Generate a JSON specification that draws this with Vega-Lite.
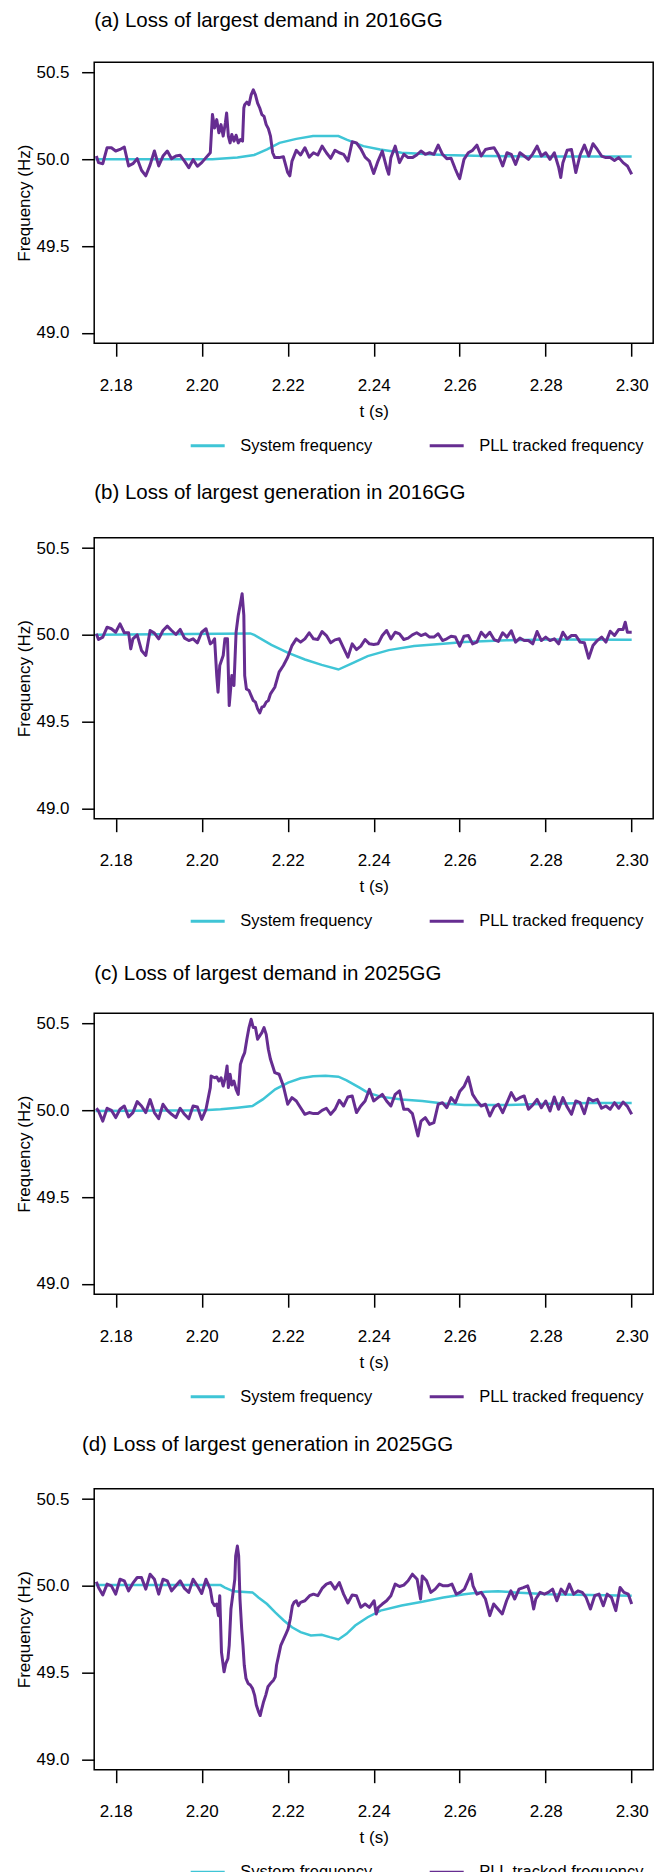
{
  "$schema": "https://vega.github.io/schema/vega-lite/v6.json",
  "padding": {"left": 14.2, "top": 10.2, "right": 2, "bottom": 0},
  "background": "white",
  "bounds": "flush",
  "spacing": 194.5,
  "resolve": {"legend": {"color": "independent"}, "scale": {"color": "independent"}},
  "datasets": {
    "a": [
      {"s":"S","t":2.1753,"f":50.0},{"s":"S","t":2.2025,"f":50.0},{"s":"S","t":2.2083,"f":50.01},{"s":"S","t":2.2122,"f":50.025},{"s":"S","t":2.2152,"f":50.057},{"s":"S","t":2.2181,"f":50.095},{"s":"S","t":2.222,"f":50.118},{"s":"S","t":2.2259,"f":50.134},{"s":"S","t":2.2318,"f":50.134},{"s":"S","t":2.2337,"f":50.114},{"s":"S","t":2.2376,"f":50.076},{"s":"S","t":2.2415,"f":50.057},{"s":"S","t":2.2465,"f":50.038},{"s":"S","t":2.2562,"f":50.025},{"s":"S","t":2.266,"f":50.019},{"s":"S","t":2.2807,"f":50.017},{"s":"S","t":2.3,"f":50.017},
      {"s":"P","t":2.1755,"f":50.019},{"s":"P","t":2.176,"f":49.981},{"s":"P","t":2.177,"f":49.975},{"s":"P","t":2.178,"f":50.067},{"s":"P","t":2.179,"f":50.067},{"s":"P","t":2.18,"f":50.048},{"s":"P","t":2.181,"f":50.057},{"s":"P","t":2.182,"f":50.071},{"s":"P","t":2.183,"f":49.962},{"s":"P","t":2.184,"f":49.975},{"s":"P","t":2.185,"f":50.004},{"s":"P","t":2.186,"f":49.937},{"s":"P","t":2.187,"f":49.905},{"s":"P","t":2.188,"f":49.968},{"s":"P","t":2.189,"f":50.048},{"s":"P","t":2.19,"f":49.962},{"s":"P","t":2.191,"f":50.019},{"s":"P","t":2.192,"f":50.048},{"s":"P","t":2.193,"f":50.004},{"s":"P","t":2.194,"f":50.019},{"s":"P","t":2.195,"f":50.023},{"s":"P","t":2.196,"f":49.99},{"s":"P","t":2.197,"f":49.952},{"s":"P","t":2.198,"f":49.998},{"s":"P","t":2.199,"f":49.96},{"s":"P","t":2.2,"f":49.981},{"s":"P","t":2.201,"f":50.01},{"s":"P","t":2.202,"f":50.038},{"s":"P","t":2.2025,"f":50.258},{"s":"P","t":2.203,"f":50.181},{"s":"P","t":2.2035,"f":50.229},{"s":"P","t":2.204,"f":50.153},{"s":"P","t":2.2045,"f":50.2},{"s":"P","t":2.205,"f":50.134},{"s":"P","t":2.2055,"f":50.21},{"s":"P","t":2.2058,"f":50.267},{"s":"P","t":2.2062,"f":50.134},{"s":"P","t":2.2066,"f":50.095},{"s":"P","t":2.207,"f":50.143},{"s":"P","t":2.2075,"f":50.105},{"s":"P","t":2.208,"f":50.139},{"s":"P","t":2.2085,"f":50.095},{"s":"P","t":2.209,"f":50.114},{"s":"P","t":2.2095,"f":50.105},{"s":"P","t":2.2098,"f":50.296},{"s":"P","t":2.21,"f":50.315},{"s":"P","t":2.2105,"f":50.33},{"s":"P","t":2.211,"f":50.315},{"s":"P","t":2.2115,"f":50.372},{"s":"P","t":2.212,"f":50.401},{"s":"P","t":2.2125,"f":50.372},{"s":"P","t":2.213,"f":50.324},{"s":"P","t":2.2135,"f":50.296},{"s":"P","t":2.214,"f":50.258},{"s":"P","t":2.2145,"f":50.248},{"s":"P","t":2.215,"f":50.2},{"s":"P","t":2.2155,"f":50.177},{"s":"P","t":2.216,"f":50.134},{"s":"P","t":2.2165,"f":50.038},{"s":"P","t":2.217,"f":50.01},{"s":"P","t":2.218,"f":50.01},{"s":"P","t":2.219,"f":50.015},{"s":"P","t":2.22,"f":49.924},{"s":"P","t":2.2205,"f":49.905},{"s":"P","t":2.221,"f":49.99},{"s":"P","t":2.222,"f":50.052},{"s":"P","t":2.223,"f":50.025},{"s":"P","t":2.224,"f":50.067},{"s":"P","t":2.225,"f":50.013},{"s":"P","t":2.226,"f":50.038},{"s":"P","t":2.227,"f":50.025},{"s":"P","t":2.228,"f":50.076},{"s":"P","t":2.229,"f":50.038},{"s":"P","t":2.23,"f":50.006},{"s":"P","t":2.231,"f":50.052},{"s":"P","t":2.232,"f":50.038},{"s":"P","t":2.233,"f":50.029},{"s":"P","t":2.234,"f":49.99},{"s":"P","t":2.235,"f":50.101},{"s":"P","t":2.236,"f":50.095},{"s":"P","t":2.237,"f":50.061},{"s":"P","t":2.238,"f":50.013},{"s":"P","t":2.239,"f":49.99},{"s":"P","t":2.24,"f":49.918},{"s":"P","t":2.241,"f":49.99},{"s":"P","t":2.242,"f":50.048},{"s":"P","t":2.243,"f":49.952},{"s":"P","t":2.2435,"f":49.914},{"s":"P","t":2.244,"f":50.01},{"s":"P","t":2.245,"f":50.076},{"s":"P","t":2.246,"f":49.981},{"s":"P","t":2.247,"f":50.029},{"s":"P","t":2.248,"f":50.01},{"s":"P","t":2.249,"f":50.01},{"s":"P","t":2.25,"f":50.025},{"s":"P","t":2.251,"f":50.048},{"s":"P","t":2.252,"f":50.029},{"s":"P","t":2.253,"f":50.038},{"s":"P","t":2.254,"f":50.029},{"s":"P","t":2.255,"f":50.082},{"s":"P","t":2.256,"f":50.029},{"s":"P","t":2.257,"f":50.004},{"s":"P","t":2.258,"f":50.006},{"s":"P","t":2.259,"f":49.943},{"s":"P","t":2.2595,"f":49.914},{"s":"P","t":2.26,"f":49.889},{"s":"P","t":2.261,"f":50.0},{"s":"P","t":2.262,"f":50.038},{"s":"P","t":2.263,"f":50.052},{"s":"P","t":2.264,"f":50.082},{"s":"P","t":2.265,"f":50.019},{"s":"P","t":2.266,"f":50.057},{"s":"P","t":2.267,"f":50.063},{"s":"P","t":2.268,"f":50.067},{"s":"P","t":2.269,"f":50.025},{"s":"P","t":2.27,"f":49.962},{"s":"P","t":2.271,"f":50.038},{"s":"P","t":2.272,"f":50.029},{"s":"P","t":2.273,"f":49.971},{"s":"P","t":2.274,"f":50.038},{"s":"P","t":2.275,"f":50.019},{"s":"P","t":2.276,"f":50.0},{"s":"P","t":2.277,"f":50.032},{"s":"P","t":2.278,"f":50.076},{"s":"P","t":2.279,"f":50.019},{"s":"P","t":2.28,"f":50.038},{"s":"P","t":2.281,"f":50.0},{"s":"P","t":2.282,"f":50.038},{"s":"P","t":2.283,"f":49.956},{"s":"P","t":2.2835,"f":49.895},{"s":"P","t":2.284,"f":49.981},{"s":"P","t":2.285,"f":50.052},{"s":"P","t":2.286,"f":50.057},{"s":"P","t":2.287,"f":49.924},{"s":"P","t":2.288,"f":50.025},{"s":"P","t":2.289,"f":50.082},{"s":"P","t":2.29,"f":50.019},{"s":"P","t":2.291,"f":50.09},{"s":"P","t":2.292,"f":50.057},{"s":"P","t":2.293,"f":50.019},{"s":"P","t":2.294,"f":50.01},{"s":"P","t":2.295,"f":50.01},{"s":"P","t":2.296,"f":49.994},{"s":"P","t":2.297,"f":50.01},{"s":"P","t":2.298,"f":49.981},{"s":"P","t":2.299,"f":49.962},{"s":"P","t":2.3,"f":49.914}
    ],
    "b": [
      {"s":"S","t":2.1753,"f":50.0},{"s":"S","t":2.2113,"f":50.008},{"s":"S","t":2.2122,"f":50.0},{"s":"S","t":2.2162,"f":49.942},{"s":"S","t":2.2201,"f":49.896},{"s":"S","t":2.224,"f":49.858},{"s":"S","t":2.2279,"f":49.827},{"s":"S","t":2.2318,"f":49.8},{"s":"S","t":2.2347,"f":49.833},{"s":"S","t":2.2386,"f":49.877},{"s":"S","t":2.2435,"f":49.912},{"s":"S","t":2.2494,"f":49.935},{"s":"S","t":2.2562,"f":49.948},{"s":"S","t":2.2611,"f":49.958},{"s":"S","t":2.2709,"f":49.969},{"s":"S","t":2.2807,"f":49.973},{"s":"S","t":2.3,"f":49.971},
      {"s":"P","t":2.1755,"f":50.006},{"s":"P","t":2.176,"f":49.973},{"s":"P","t":2.177,"f":49.987},{"s":"P","t":2.178,"f":50.044},{"s":"P","t":2.179,"f":50.035},{"s":"P","t":2.18,"f":50.015},{"s":"P","t":2.181,"f":50.063},{"s":"P","t":2.182,"f":50.012},{"s":"P","t":2.183,"f":50.012},{"s":"P","t":2.1835,"f":49.919},{"s":"P","t":2.184,"f":49.977},{"s":"P","t":2.185,"f":50.0},{"s":"P","t":2.186,"f":49.91},{"s":"P","t":2.187,"f":49.881},{"s":"P","t":2.188,"f":50.025},{"s":"P","t":2.189,"f":50.01},{"s":"P","t":2.19,"f":49.977},{"s":"P","t":2.191,"f":50.025},{"s":"P","t":2.192,"f":50.05},{"s":"P","t":2.193,"f":50.025},{"s":"P","t":2.194,"f":50.002},{"s":"P","t":2.195,"f":50.031},{"s":"P","t":2.196,"f":49.981},{"s":"P","t":2.197,"f":49.967},{"s":"P","t":2.198,"f":49.977},{"s":"P","t":2.199,"f":49.954},{"s":"P","t":2.2,"f":50.015},{"s":"P","t":2.201,"f":50.035},{"s":"P","t":2.202,"f":49.948},{"s":"P","t":2.2025,"f":49.958},{"s":"P","t":2.203,"f":49.977},{"s":"P","t":2.2035,"f":49.765},{"s":"P","t":2.2038,"f":49.669},{"s":"P","t":2.2042,"f":49.823},{"s":"P","t":2.205,"f":49.881},{"s":"P","t":2.2054,"f":49.977},{"s":"P","t":2.206,"f":49.977},{"s":"P","t":2.2064,"f":49.592},{"s":"P","t":2.207,"f":49.765},{"s":"P","t":2.2075,"f":49.708},{"s":"P","t":2.208,"f":50.015},{"s":"P","t":2.2085,"f":50.112},{"s":"P","t":2.209,"f":50.179},{"s":"P","t":2.2094,"f":50.237},{"s":"P","t":2.2098,"f":50.112},{"s":"P","t":2.21,"f":49.765},{"s":"P","t":2.2104,"f":49.688},{"s":"P","t":2.211,"f":49.679},{"s":"P","t":2.2115,"f":49.65},{"s":"P","t":2.212,"f":49.621},{"s":"P","t":2.2125,"f":49.612},{"s":"P","t":2.213,"f":49.573},{"s":"P","t":2.2135,"f":49.55},{"s":"P","t":2.214,"f":49.583},{"s":"P","t":2.2145,"f":49.588},{"s":"P","t":2.215,"f":49.612},{"s":"P","t":2.2155,"f":49.621},{"s":"P","t":2.216,"f":49.66},{"s":"P","t":2.217,"f":49.698},{"s":"P","t":2.218,"f":49.785},{"s":"P","t":2.219,"f":49.823},{"s":"P","t":2.22,"f":49.871},{"s":"P","t":2.221,"f":49.938},{"s":"P","t":2.222,"f":49.977},{"s":"P","t":2.223,"f":49.958},{"s":"P","t":2.224,"f":49.977},{"s":"P","t":2.225,"f":50.012},{"s":"P","t":2.226,"f":49.977},{"s":"P","t":2.227,"f":49.973},{"s":"P","t":2.228,"f":50.019},{"s":"P","t":2.229,"f":49.996},{"s":"P","t":2.23,"f":49.954},{"s":"P","t":2.231,"f":49.971},{"s":"P","t":2.232,"f":49.977},{"s":"P","t":2.233,"f":49.923},{"s":"P","t":2.234,"f":49.871},{"s":"P","t":2.235,"f":49.948},{"s":"P","t":2.236,"f":49.915},{"s":"P","t":2.237,"f":49.935},{"s":"P","t":2.238,"f":49.973},{"s":"P","t":2.239,"f":49.948},{"s":"P","t":2.24,"f":49.944},{"s":"P","t":2.241,"f":49.948},{"s":"P","t":2.242,"f":49.996},{"s":"P","t":2.243,"f":50.025},{"s":"P","t":2.244,"f":49.977},{"s":"P","t":2.245,"f":50.015},{"s":"P","t":2.246,"f":50.006},{"s":"P","t":2.247,"f":49.973},{"s":"P","t":2.248,"f":49.981},{"s":"P","t":2.249,"f":50.0},{"s":"P","t":2.25,"f":50.012},{"s":"P","t":2.251,"f":49.996},{"s":"P","t":2.252,"f":50.006},{"s":"P","t":2.253,"f":49.987},{"s":"P","t":2.254,"f":49.987},{"s":"P","t":2.255,"f":50.006},{"s":"P","t":2.256,"f":49.967},{"s":"P","t":2.257,"f":49.977},{"s":"P","t":2.258,"f":49.992},{"s":"P","t":2.259,"f":49.987},{"s":"P","t":2.26,"f":49.935},{"s":"P","t":2.261,"f":49.992},{"s":"P","t":2.262,"f":49.996},{"s":"P","t":2.263,"f":49.948},{"s":"P","t":2.264,"f":49.958},{"s":"P","t":2.265,"f":50.015},{"s":"P","t":2.266,"f":49.987},{"s":"P","t":2.267,"f":50.015},{"s":"P","t":2.268,"f":49.973},{"s":"P","t":2.269,"f":49.962},{"s":"P","t":2.27,"f":50.012},{"s":"P","t":2.271,"f":49.987},{"s":"P","t":2.272,"f":50.023},{"s":"P","t":2.273,"f":49.958},{"s":"P","t":2.274,"f":49.981},{"s":"P","t":2.275,"f":49.967},{"s":"P","t":2.276,"f":49.967},{"s":"P","t":2.277,"f":49.948},{"s":"P","t":2.278,"f":50.019},{"s":"P","t":2.279,"f":49.967},{"s":"P","t":2.28,"f":49.987},{"s":"P","t":2.281,"f":49.967},{"s":"P","t":2.282,"f":49.977},{"s":"P","t":2.283,"f":49.948},{"s":"P","t":2.284,"f":50.015},{"s":"P","t":2.285,"f":49.977},{"s":"P","t":2.286,"f":49.996},{"s":"P","t":2.287,"f":49.996},{"s":"P","t":2.288,"f":49.958},{"s":"P","t":2.289,"f":49.954},{"s":"P","t":2.29,"f":49.865},{"s":"P","t":2.291,"f":49.938},{"s":"P","t":2.292,"f":49.967},{"s":"P","t":2.293,"f":49.987},{"s":"P","t":2.294,"f":49.958},{"s":"P","t":2.295,"f":50.021},{"s":"P","t":2.296,"f":49.996},{"s":"P","t":2.297,"f":50.031},{"s":"P","t":2.298,"f":50.031},{"s":"P","t":2.2985,"f":50.073},{"s":"P","t":2.299,"f":50.015},{"s":"P","t":2.3,"f":50.015}
    ],
    "c": [
      {"s":"S","t":2.1753,"f":49.996},{"s":"S","t":2.2005,"f":50.0},{"s":"S","t":2.2044,"f":50.006},{"s":"S","t":2.2083,"f":50.015},{"s":"S","t":2.2118,"f":50.025},{"s":"S","t":2.2142,"f":50.063},{"s":"S","t":2.2171,"f":50.121},{"s":"S","t":2.2201,"f":50.16},{"s":"S","t":2.223,"f":50.185},{"s":"S","t":2.2259,"f":50.196},{"s":"S","t":2.2288,"f":50.2},{"s":"S","t":2.2318,"f":50.194},{"s":"S","t":2.2337,"f":50.173},{"s":"S","t":2.2367,"f":50.131},{"s":"S","t":2.2386,"f":50.102},{"s":"S","t":2.2416,"f":50.079},{"s":"S","t":2.2465,"f":50.062},{"s":"S","t":2.2513,"f":50.054},{"s":"S","t":2.2562,"f":50.04},{"s":"S","t":2.2611,"f":50.031},{"s":"S","t":2.2709,"f":50.031},{"s":"S","t":2.2807,"f":50.038},{"s":"S","t":2.2904,"f":50.042},{"s":"S","t":2.3,"f":50.042},
      {"s":"P","t":2.1755,"f":50.012},{"s":"P","t":2.176,"f":49.996},{"s":"P","t":2.177,"f":49.938},{"s":"P","t":2.178,"f":50.012},{"s":"P","t":2.179,"f":50.0},{"s":"P","t":2.18,"f":49.958},{"s":"P","t":2.181,"f":50.006},{"s":"P","t":2.182,"f":50.025},{"s":"P","t":2.183,"f":49.962},{"s":"P","t":2.184,"f":49.987},{"s":"P","t":2.185,"f":50.05},{"s":"P","t":2.186,"f":50.025},{"s":"P","t":2.187,"f":49.987},{"s":"P","t":2.188,"f":50.062},{"s":"P","t":2.189,"f":49.987},{"s":"P","t":2.19,"f":49.952},{"s":"P","t":2.191,"f":50.035},{"s":"P","t":2.192,"f":50.0},{"s":"P","t":2.193,"f":49.977},{"s":"P","t":2.194,"f":49.958},{"s":"P","t":2.195,"f":50.012},{"s":"P","t":2.196,"f":49.977},{"s":"P","t":2.197,"f":49.952},{"s":"P","t":2.198,"f":50.025},{"s":"P","t":2.199,"f":50.019},{"s":"P","t":2.2,"f":49.948},{"s":"P","t":2.201,"f":50.006},{"s":"P","t":2.202,"f":50.131},{"s":"P","t":2.2022,"f":50.198},{"s":"P","t":2.203,"f":50.188},{"s":"P","t":2.2035,"f":50.192},{"s":"P","t":2.204,"f":50.169},{"s":"P","t":2.2045,"f":50.188},{"s":"P","t":2.205,"f":50.14},{"s":"P","t":2.2055,"f":50.188},{"s":"P","t":2.2059,"f":50.256},{"s":"P","t":2.2062,"f":50.131},{"s":"P","t":2.2066,"f":50.208},{"s":"P","t":2.207,"f":50.146},{"s":"P","t":2.2075,"f":50.169},{"s":"P","t":2.208,"f":50.121},{"s":"P","t":2.2085,"f":50.092},{"s":"P","t":2.209,"f":50.265},{"s":"P","t":2.2095,"f":50.304},{"s":"P","t":2.21,"f":50.333},{"s":"P","t":2.2105,"f":50.41},{"s":"P","t":2.211,"f":50.477},{"s":"P","t":2.2115,"f":50.525},{"s":"P","t":2.212,"f":50.477},{"s":"P","t":2.2125,"f":50.477},{"s":"P","t":2.213,"f":50.41},{"s":"P","t":2.2135,"f":50.429},{"s":"P","t":2.214,"f":50.448},{"s":"P","t":2.2145,"f":50.477},{"s":"P","t":2.215,"f":50.438},{"s":"P","t":2.2155,"f":50.352},{"s":"P","t":2.216,"f":50.294},{"s":"P","t":2.217,"f":50.217},{"s":"P","t":2.218,"f":50.208},{"s":"P","t":2.219,"f":50.14},{"s":"P","t":2.22,"f":50.035},{"s":"P","t":2.221,"f":50.073},{"s":"P","t":2.222,"f":50.054},{"s":"P","t":2.223,"f":50.015},{"s":"P","t":2.224,"f":49.977},{"s":"P","t":2.225,"f":49.987},{"s":"P","t":2.226,"f":49.981},{"s":"P","t":2.227,"f":49.981},{"s":"P","t":2.228,"f":50.0},{"s":"P","t":2.229,"f":50.012},{"s":"P","t":2.23,"f":49.977},{"s":"P","t":2.231,"f":50.006},{"s":"P","t":2.232,"f":50.058},{"s":"P","t":2.233,"f":50.025},{"s":"P","t":2.234,"f":50.077},{"s":"P","t":2.235,"f":50.083},{"s":"P","t":2.236,"f":49.987},{"s":"P","t":2.237,"f":50.025},{"s":"P","t":2.238,"f":50.054},{"s":"P","t":2.239,"f":50.121},{"s":"P","t":2.24,"f":50.054},{"s":"P","t":2.241,"f":50.073},{"s":"P","t":2.242,"f":50.092},{"s":"P","t":2.243,"f":50.054},{"s":"P","t":2.244,"f":50.025},{"s":"P","t":2.245,"f":50.092},{"s":"P","t":2.246,"f":50.112},{"s":"P","t":2.247,"f":50.006},{"s":"P","t":2.248,"f":50.006},{"s":"P","t":2.249,"f":49.981},{"s":"P","t":2.25,"f":49.881},{"s":"P","t":2.2503,"f":49.852},{"s":"P","t":2.251,"f":49.938},{"s":"P","t":2.252,"f":49.958},{"s":"P","t":2.253,"f":49.919},{"s":"P","t":2.254,"f":49.929},{"s":"P","t":2.255,"f":50.035},{"s":"P","t":2.256,"f":50.044},{"s":"P","t":2.257,"f":50.015},{"s":"P","t":2.258,"f":50.073},{"s":"P","t":2.259,"f":50.044},{"s":"P","t":2.26,"f":50.108},{"s":"P","t":2.261,"f":50.137},{"s":"P","t":2.262,"f":50.192},{"s":"P","t":2.263,"f":50.092},{"s":"P","t":2.264,"f":50.054},{"s":"P","t":2.265,"f":50.025},{"s":"P","t":2.266,"f":50.035},{"s":"P","t":2.267,"f":49.967},{"s":"P","t":2.268,"f":50.019},{"s":"P","t":2.269,"f":50.035},{"s":"P","t":2.27,"f":49.987},{"s":"P","t":2.271,"f":50.044},{"s":"P","t":2.272,"f":50.102},{"s":"P","t":2.273,"f":50.058},{"s":"P","t":2.274,"f":50.073},{"s":"P","t":2.275,"f":50.083},{"s":"P","t":2.276,"f":50.006},{"s":"P","t":2.277,"f":50.031},{"s":"P","t":2.278,"f":50.063},{"s":"P","t":2.279,"f":50.015},{"s":"P","t":2.28,"f":50.054},{"s":"P","t":2.281,"f":49.996},{"s":"P","t":2.282,"f":50.077},{"s":"P","t":2.283,"f":50.006},{"s":"P","t":2.284,"f":50.073},{"s":"P","t":2.285,"f":50.019},{"s":"P","t":2.286,"f":49.977},{"s":"P","t":2.287,"f":50.054},{"s":"P","t":2.288,"f":50.044},{"s":"P","t":2.289,"f":49.981},{"s":"P","t":2.29,"f":50.069},{"s":"P","t":2.291,"f":50.054},{"s":"P","t":2.292,"f":50.063},{"s":"P","t":2.293,"f":50.012},{"s":"P","t":2.294,"f":50.025},{"s":"P","t":2.295,"f":50.006},{"s":"P","t":2.296,"f":50.044},{"s":"P","t":2.297,"f":50.012},{"s":"P","t":2.298,"f":50.048},{"s":"P","t":2.299,"f":50.023},{"s":"P","t":2.3,"f":49.977}
    ],
    "d": [
      {"s":"S","t":2.1753,"f":50.004},{"s":"S","t":2.2044,"f":50.004},{"s":"S","t":2.2054,"f":49.99},{"s":"S","t":2.2074,"f":49.968},{"s":"S","t":2.2118,"f":49.962},{"s":"S","t":2.2132,"f":49.933},{"s":"S","t":2.2152,"f":49.895},{"s":"S","t":2.2171,"f":49.847},{"s":"S","t":2.2191,"f":49.8},{"s":"S","t":2.221,"f":49.761},{"s":"S","t":2.223,"f":49.733},{"s":"S","t":2.2254,"f":49.714},{"s":"S","t":2.2279,"f":49.718},{"s":"S","t":2.2298,"f":49.704},{"s":"S","t":2.2318,"f":49.691},{"s":"S","t":2.2337,"f":49.723},{"s":"S","t":2.2357,"f":49.771},{"s":"S","t":2.2386,"f":49.819},{"s":"S","t":2.2416,"f":49.857},{"s":"S","t":2.2465,"f":49.886},{"s":"S","t":2.2513,"f":49.908},{"s":"S","t":2.2562,"f":49.933},{"s":"S","t":2.2611,"f":49.952},{"s":"S","t":2.266,"f":49.966},{"s":"S","t":2.2689,"f":49.969},{"s":"S","t":2.2728,"f":49.962},{"s":"S","t":2.2807,"f":49.952},{"s":"S","t":2.2904,"f":49.947},{"s":"S","t":2.3,"f":49.943},
      {"s":"P","t":2.1755,"f":50.023},{"s":"P","t":2.176,"f":49.99},{"s":"P","t":2.177,"f":49.947},{"s":"P","t":2.178,"f":50.01},{"s":"P","t":2.179,"f":50.0},{"s":"P","t":2.18,"f":49.952},{"s":"P","t":2.181,"f":50.038},{"s":"P","t":2.182,"f":50.029},{"s":"P","t":2.183,"f":49.971},{"s":"P","t":2.184,"f":50.015},{"s":"P","t":2.185,"f":50.048},{"s":"P","t":2.186,"f":50.048},{"s":"P","t":2.187,"f":49.981},{"s":"P","t":2.188,"f":50.067},{"s":"P","t":2.189,"f":50.038},{"s":"P","t":2.19,"f":49.952},{"s":"P","t":2.191,"f":50.038},{"s":"P","t":2.192,"f":50.029},{"s":"P","t":2.193,"f":49.971},{"s":"P","t":2.194,"f":50.0},{"s":"P","t":2.195,"f":50.029},{"s":"P","t":2.196,"f":49.985},{"s":"P","t":2.197,"f":49.962},{"s":"P","t":2.198,"f":50.038},{"s":"P","t":2.199,"f":50.0},{"s":"P","t":2.2,"f":49.956},{"s":"P","t":2.201,"f":50.038},{"s":"P","t":2.202,"f":49.981},{"s":"P","t":2.2025,"f":49.905},{"s":"P","t":2.203,"f":49.886},{"s":"P","t":2.2035,"f":49.895},{"s":"P","t":2.2039,"f":49.828},{"s":"P","t":2.2042,"f":49.943},{"s":"P","t":2.2046,"f":49.618},{"s":"P","t":2.2049,"f":49.561},{"s":"P","t":2.2052,"f":49.504},{"s":"P","t":2.2056,"f":49.552},{"s":"P","t":2.2061,"f":49.58},{"s":"P","t":2.2064,"f":49.657},{"s":"P","t":2.2068,"f":49.866},{"s":"P","t":2.2072,"f":49.943},{"s":"P","t":2.2077,"f":50.038},{"s":"P","t":2.2079,"f":50.172},{"s":"P","t":2.2083,"f":50.229},{"s":"P","t":2.2086,"f":50.172},{"s":"P","t":2.2089,"f":49.924},{"s":"P","t":2.2093,"f":49.752},{"s":"P","t":2.2096,"f":49.657},{"s":"P","t":2.2099,"f":49.542},{"s":"P","t":2.2103,"f":49.466},{"s":"P","t":2.2108,"f":49.437},{"s":"P","t":2.2113,"f":49.428},{"s":"P","t":2.2118,"f":49.409},{"s":"P","t":2.2123,"f":49.37},{"s":"P","t":2.2127,"f":49.313},{"s":"P","t":2.2132,"f":49.275},{"s":"P","t":2.2136,"f":49.252},{"s":"P","t":2.214,"f":49.294},{"s":"P","t":2.2144,"f":49.332},{"s":"P","t":2.2149,"f":49.37},{"s":"P","t":2.2154,"f":49.418},{"s":"P","t":2.2162,"f":49.443},{"s":"P","t":2.2167,"f":49.456},{"s":"P","t":2.2171,"f":49.475},{"s":"P","t":2.2174,"f":49.542},{"s":"P","t":2.2179,"f":49.599},{"s":"P","t":2.2184,"f":49.657},{"s":"P","t":2.2191,"f":49.695},{"s":"P","t":2.2196,"f":49.723},{"s":"P","t":2.2201,"f":49.752},{"s":"P","t":2.2206,"f":49.809},{"s":"P","t":2.2211,"f":49.886},{"s":"P","t":2.2215,"f":49.905},{"s":"P","t":2.222,"f":49.914},{"s":"P","t":2.2225,"f":49.886},{"s":"P","t":2.223,"f":49.905},{"s":"P","t":2.224,"f":49.914},{"s":"P","t":2.2251,"f":49.943},{"s":"P","t":2.226,"f":49.952},{"s":"P","t":2.227,"f":49.943},{"s":"P","t":2.228,"f":49.985},{"s":"P","t":2.229,"f":50.01},{"s":"P","t":2.23,"f":50.019},{"s":"P","t":2.231,"f":49.981},{"s":"P","t":2.232,"f":50.019},{"s":"P","t":2.233,"f":49.952},{"s":"P","t":2.234,"f":49.901},{"s":"P","t":2.235,"f":49.947},{"s":"P","t":2.236,"f":49.943},{"s":"P","t":2.237,"f":49.876},{"s":"P","t":2.238,"f":49.895},{"s":"P","t":2.239,"f":49.876},{"s":"P","t":2.2401,"f":49.914},{"s":"P","t":2.2406,"f":49.838},{"s":"P","t":2.2411,"f":49.876},{"s":"P","t":2.242,"f":49.895},{"s":"P","t":2.243,"f":49.914},{"s":"P","t":2.244,"f":49.943},{"s":"P","t":2.245,"f":50.01},{"s":"P","t":2.246,"f":49.996},{"s":"P","t":2.247,"f":50.004},{"s":"P","t":2.248,"f":50.029},{"s":"P","t":2.249,"f":50.067},{"s":"P","t":2.2501,"f":50.038},{"s":"P","t":2.2509,"f":49.924},{"s":"P","t":2.2513,"f":50.057},{"s":"P","t":2.2523,"f":50.029},{"s":"P","t":2.2533,"f":49.962},{"s":"P","t":2.2543,"f":49.981},{"s":"P","t":2.2553,"f":50.01},{"s":"P","t":2.2562,"f":50.0},{"s":"P","t":2.2572,"f":50.0},{"s":"P","t":2.2582,"f":50.01},{"s":"P","t":2.2592,"f":49.952},{"s":"P","t":2.2601,"f":49.962},{"s":"P","t":2.2611,"f":49.981},{"s":"P","t":2.2621,"f":50.038},{"s":"P","t":2.2626,"f":50.067},{"s":"P","t":2.2631,"f":50.0},{"s":"P","t":2.264,"f":49.952},{"s":"P","t":2.265,"f":49.962},{"s":"P","t":2.266,"f":49.924},{"s":"P","t":2.267,"f":49.828},{"s":"P","t":2.2679,"f":49.895},{"s":"P","t":2.2689,"f":49.866},{"s":"P","t":2.2699,"f":49.838},{"s":"P","t":2.2709,"f":49.914},{"s":"P","t":2.2719,"f":49.971},{"s":"P","t":2.2728,"f":49.924},{"s":"P","t":2.2738,"f":49.981},{"s":"P","t":2.2748,"f":49.99},{"s":"P","t":2.2758,"f":50.0},{"s":"P","t":2.2767,"f":49.933},{"s":"P","t":2.2772,"f":49.866},{"s":"P","t":2.2777,"f":49.924},{"s":"P","t":2.2787,"f":49.962},{"s":"P","t":2.2797,"f":49.952},{"s":"P","t":2.2806,"f":49.962},{"s":"P","t":2.2816,"f":49.981},{"s":"P","t":2.2826,"f":49.914},{"s":"P","t":2.2836,"f":49.981},{"s":"P","t":2.2846,"f":49.952},{"s":"P","t":2.2855,"f":50.01},{"s":"P","t":2.2865,"f":49.952},{"s":"P","t":2.2875,"f":49.971},{"s":"P","t":2.2885,"f":49.962},{"s":"P","t":2.2894,"f":49.933},{"s":"P","t":2.2904,"f":49.866},{"s":"P","t":2.2914,"f":49.943},{"s":"P","t":2.2924,"f":49.952},{"s":"P","t":2.2934,"f":49.885},{"s":"P","t":2.2943,"f":49.952},{"s":"P","t":2.2953,"f":49.933},{"s":"P","t":2.2963,"f":49.857},{"s":"P","t":2.2973,"f":49.99},{"s":"P","t":2.2982,"f":49.962},{"s":"P","t":2.2992,"f":49.952},{"s":"P","t":2.3,"f":49.895}
    ]
  },
  "vconcat": [
    {
      "title": {"text": "(a) Loss of largest demand in 2016GG", "offset": 30.6},
      "width": 559, "height": 281,
      "data": {"name": "a"},
      "encoding": {
        "x": {"field": "t", "type": "quantitative", "scale": {"domain": [2.175, 2.305], "nice": false, "zero": false}, "axis": {"values": [2.18, 2.2, 2.22, 2.24, 2.26, 2.28, 2.3], "format": ".2f", "title": "t (s)"}},
        "y": {"field": "f", "type": "quantitative", "scale": {"domain": [48.94, 50.56], "nice": false, "zero": false}, "axis": {"values": [49, 49.5, 50, 50.5], "format": ".1f", "title": "Frequency (Hz)"}},
        "color": {"field": "s", "type": "nominal", "scale": {"domain": ["S", "P"], "range": ["#3FC5D6", "#662D91"]}, "legend": {"title": null, "orient": "none", "legendX": 95, "legendY": 365, "direction": "horizontal", "columns": 2, "labelExpr": "datum.value == 'S' ? 'System frequency' : 'PLL tracked frequency'"}}
      },
      "layer": [
        {"transform": [{"filter": "datum.s == 'S'"}], "mark": {"type": "line", "strokeWidth": 2.5}},
        {"transform": [{"filter": "datum.s == 'P'"}], "mark": {"type": "line", "strokeWidth": 3, "strokeJoin": "round"}}
      ]
    },
    {
      "title": {"text": "(b) Loss of largest generation in 2016GG", "offset": 34.7},
      "width": 559, "height": 281,
      "data": {"name": "b"},
      "encoding": {
        "x": {"field": "t", "type": "quantitative", "scale": {"domain": [2.175, 2.305], "nice": false, "zero": false}, "axis": {"values": [2.18, 2.2, 2.22, 2.24, 2.26, 2.28, 2.3], "format": ".2f", "title": "t (s)"}},
        "y": {"field": "f", "type": "quantitative", "scale": {"domain": [48.94, 50.56], "nice": false, "zero": false}, "axis": {"values": [49, 49.5, 50, 50.5], "format": ".1f", "title": "Frequency (Hz)"}},
        "color": {"field": "s", "type": "nominal", "scale": {"domain": ["S", "P"], "range": ["#3FC5D6", "#662D91"]}, "legend": {"title": null, "orient": "none", "legendX": 95, "legendY": 365, "direction": "horizontal", "columns": 2, "labelExpr": "datum.value == 'S' ? 'System frequency' : 'PLL tracked frequency'"}}
      },
      "layer": [
        {"transform": [{"filter": "datum.s == 'S'"}], "mark": {"type": "line", "strokeWidth": 2.5}},
        {"transform": [{"filter": "datum.s == 'P'"}], "mark": {"type": "line", "strokeWidth": 3, "strokeJoin": "round"}}
      ]
    },
    {
      "title": {"text": "(c) Loss of largest demand in 2025GG", "offset": 28.3},
      "width": 559, "height": 281,
      "data": {"name": "c"},
      "encoding": {
        "x": {"field": "t", "type": "quantitative", "scale": {"domain": [2.175, 2.305], "nice": false, "zero": false}, "axis": {"values": [2.18, 2.2, 2.22, 2.24, 2.26, 2.28, 2.3], "format": ".2f", "title": "t (s)"}},
        "y": {"field": "f", "type": "quantitative", "scale": {"domain": [48.94, 50.56], "nice": false, "zero": false}, "axis": {"values": [49, 49.5, 50, 50.5], "format": ".1f", "title": "Frequency (Hz)"}},
        "color": {"field": "s", "type": "nominal", "scale": {"domain": ["S", "P"], "range": ["#3FC5D6", "#662D91"]}, "legend": {"title": null, "orient": "none", "legendX": 95, "legendY": 365, "direction": "horizontal", "columns": 2, "labelExpr": "datum.value == 'S' ? 'System frequency' : 'PLL tracked frequency'"}}
      },
      "layer": [
        {"transform": [{"filter": "datum.s == 'S'"}], "mark": {"type": "line", "strokeWidth": 2.5}},
        {"transform": [{"filter": "datum.s == 'P'"}], "mark": {"type": "line", "strokeWidth": 3, "strokeJoin": "round"}}
      ]
    },
    {
      "title": {"text": "(d) Loss of largest generation in 2025GG", "dx": -12.3, "offset": 33.3},
      "width": 559, "height": 281,
      "data": {"name": "d"},
      "encoding": {
        "x": {"field": "t", "type": "quantitative", "scale": {"domain": [2.175, 2.305], "nice": false, "zero": false}, "axis": {"values": [2.18, 2.2, 2.22, 2.24, 2.26, 2.28, 2.3], "format": ".2f", "title": "t (s)"}},
        "y": {"field": "f", "type": "quantitative", "scale": {"domain": [48.94, 50.56], "nice": false, "zero": false}, "axis": {"values": [49, 49.5, 50, 50.5], "format": ".1f", "title": "Frequency (Hz)"}},
        "color": {"field": "s", "type": "nominal", "scale": {"domain": ["S", "P"], "range": ["#3FC5D6", "#662D91"]}, "legend": {"title": null, "orient": "none", "legendX": 95, "legendY": 365, "direction": "horizontal", "columns": 2, "labelExpr": "datum.value == 'S' ? 'System frequency' : 'PLL tracked frequency'"}}
      },
      "layer": [
        {"transform": [{"filter": "datum.s == 'S'"}], "mark": {"type": "line", "strokeWidth": 2.5}},
        {"transform": [{"filter": "datum.s == 'P'"}], "mark": {"type": "line", "strokeWidth": 3, "strokeJoin": "round"}}
      ]
    }
  ],
  "config": {
    "font": "Liberation Sans",
    "view": {"stroke": "black", "strokeWidth": 1.5},
    "title": {"anchor": "start", "frame": "group", "fontSize": 20.5, "fontWeight": "normal", "color": "black", "baseline": "middle", "offset": 33},
    "axis": {"grid": false, "domain": false, "tickColor": "black", "tickWidth": 1.5, "labelColor": "black", "labelFontSize": 17, "titleColor": "black", "titleFontSize": 17, "titleFontWeight": "normal"},
    "axisX": {"tickSize": 13, "labelPadding": 21, "titleY": 68, "titleBaseline": "middle", "labelFlush": false, "labelOverlap": false},
    "axisY": {"tickSize": 12.6, "labelPadding": 12.6, "titleX": -69.6, "titleY": 140.5, "titleAngle": -90, "titleAlign": "center", "titleBaseline": "middle", "labelOverlap": false},
    "legend": {"symbolType": "stroke", "symbolSize": 1156, "symbolStrokeWidth": 3, "labelFontSize": 16.5, "labelColor": "black", "labelOffset": 14, "columnPadding": 50, "padding": 0, "labelLimit": 300}
  }
}
